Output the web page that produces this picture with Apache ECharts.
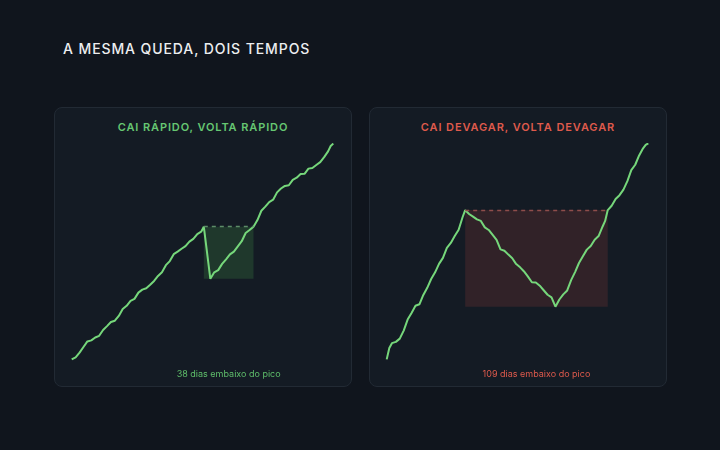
<!DOCTYPE html>
<html>
<head>
<meta charset="utf-8">
<script src="https://cdn.jsdelivr.net/npm/echarts@6/dist/echarts.min.js"></script>
<style>
  html, body { margin: 0; padding: 0; background: #10151d; }
  #wrap { position: relative; width: 720px; height: 450px; overflow: hidden; font-family: Inter, "Noto Sans", sans-serif; }
  .panel { position: absolute; top: 107px; width: 298px; height: 280px; background: #141b24; border: 1px solid #222a34; border-radius: 8px; box-sizing: border-box; }
  .ptitle { position: absolute; top: 120px; width: 298px; text-align: center; font-size: 11px; font-weight: 600; letter-spacing: 0.9px; }
  #title { position: absolute; left: 63px; top: 40px; color: #eceef0; font-size: 14px; font-weight: 500; letter-spacing: 0.9px; }
  #chart { position: absolute; left: 0; top: 0; width: 720px; height: 450px; }
</style>
</head>
<body>
<div id="wrap">
  <div class="panel" style="left:54px"></div>
  <div class="panel" style="left:369px"></div>
  <div id="title">A MESMA QUEDA, DOIS TEMPOS</div>
  <div class="ptitle" style="left:54px;color:#66c772">CAI RÁPIDO, VOLTA RÁPIDO</div>
  <div class="ptitle" style="left:369px;color:#df5a4c">CAI DEVAGAR, VOLTA DEVAGAR</div>
  <div id="chart"></div>
</div>
<script>
// dias e valores (índice, pico = referência)
var fastDays = [0, 3, 6, 9, 12, 15, 18, 21, 24, 27, 30, 33, 36, 39, 42, 45, 48, 51, 54, 57, 60, 63, 66, 69, 72, 75, 78, 81, 84, 87, 90, 93, 96, 99, 101,
  106, 109, 112, 115, 118, 121, 124, 127, 130, 133, 136, 139,
  142, 145, 148, 151, 154, 157, 160, 163, 166, 169, 172, 175, 178, 181, 184, 187, 190, 193, 196, 198, 200]
var fastVals = [0.3, 1.2, 3.4, 6.0, 8.6, 9.1, 10.4, 11.2, 13.9, 15.7, 17.6, 18.2, 20.4, 23.6, 25.1, 27.4, 28.3, 31.2, 32.6, 33.2, 34.8, 36.6, 38.9, 40.6, 43.9, 45.8, 49.0, 50.2, 51.5, 52.7, 54.8, 56.1, 58.3, 59.4, 61.7,
  37.6, 40.6, 41.6, 44.5, 46.6, 48.9, 50.2, 52.6, 55.0, 58.8, 60.2, 61.7,
  64.8, 69.1, 71.0, 73.1, 74.2, 77.6, 79.4, 80.6, 80.9, 83.4, 84.4, 86.1, 86.2, 88.6, 88.9, 90.3, 91.6, 93.9, 96.6, 99.1, 100.2]
var fastPeakDay = 101
var fastRecoveryDay = 139

var slowDays = [0, 2, 4, 7, 10, 13, 16, 19, 22, 25, 28, 31, 34, 37, 40, 43, 46, 49, 52, 55, 58, 60,
  63, 66, 69, 72, 75, 78, 81, 84, 87, 90, 93, 96, 99, 102, 105, 108, 111, 114, 117, 120, 123, 126, 129,
  132, 135, 138, 141, 144, 147, 150, 153, 156, 159, 162, 165, 167, 169,
  172, 175, 178, 181, 184, 187, 190, 193, 196, 198, 200]
var slowVals = [0.3, 5.6, 7.8, 8.4, 9.9, 13.6, 18.7, 21.8, 25.1, 25.8, 30.1, 33.4, 37.5, 40.6, 44.5, 47.3, 51.9, 54.2, 57.4, 60.3, 66.1, 69.4,
  67.6, 66.4, 65.1, 64.4, 61.4, 60.2, 57.9, 55.6, 51.2, 50.6, 48.8, 47.1, 44.4, 42.9, 41.0, 38.6, 36.0, 35.9, 34.4, 32.3, 30.2, 29.0, 24.7,
  28.0, 30.4, 32.2, 37.0, 40.7, 44.9, 48.0, 51.1, 52.8, 55.7, 57.4, 61.7, 64.4, 69.4,
  71.4, 74.5, 76.3, 78.9, 82.8, 87.9, 90.4, 94.7, 98.0, 99.6, 100.3]
var slowPeakDay = 60
var slowRecoveryDay = 169

var captionSuffix = ' dias embaixo do pico'

var LINE = '#76d77b'
var panels = [
  { days: fastDays, vals: fastVals, peak: fastPeakDay, rec: fastRecoveryDay, left: 71.7,
    fill: 'rgba(76,175,80,0.2)', dash: '#5d8d68', text: '#5fbf6b' },
  { days: slowDays, vals: slowVals, peak: slowPeakDay, rec: slowRecoveryDay, left: 386.7,
    fill: 'rgba(224,80,70,0.14)', dash: '#8e4d4b', text: '#df5a4c' }
]

function zip(a, b) {
  return a.map(function (d, i) { return [d, b[i]] })
}

function stats(p) {
  var peakVal = p.vals[p.days.indexOf(p.peak)]
  var low = Infinity
  p.days.forEach(function (d, i) {
    if (d >= p.peak && d <= p.rec) low = Math.min(low, p.vals[i])
  })
  return { peakVal: peakVal, low: low }
}

var chart = echarts.init(document.getElementById('chart'), null, { renderer: 'canvas' })

var option = {
  backgroundColor: 'transparent',
  animation: false,
  grid: [], xAxis: [], yAxis: [], series: []
}

panels.forEach(function (p, i) {
  var s = stats(p)
  option.grid.push({ left: p.left, top: 144, width: 261.6, height: 216 })
  option.xAxis.push({ type: 'value', gridIndex: i, min: 0, max: 200, show: false })
  option.yAxis.push({ type: 'value', gridIndex: i, min: 0, max: 100, show: false })
  option.series.push({
    type: 'line',
    xAxisIndex: i, yAxisIndex: i,
    data: zip(p.days, p.vals),
    showSymbol: false,
    lineStyle: { color: LINE, width: 2 },
    z: 3,
    markArea: {
      silent: true,
      itemStyle: { color: p.fill },
      label: {
        show: true,
        position: 'bottom',
        distance: 0,
        formatter: (p.rec - p.peak) + captionSuffix,
        color: p.text,
        fontSize: 9,
        fontFamily: 'Inter, "Noto Sans", sans-serif'
      },
      data: [[{ coord: [p.peak, s.peakVal] }, { coord: [p.rec, s.low] }]]
    },
    markLine: {
      silent: true,
      symbol: 'none',
      label: { show: false },
      lineStyle: { color: p.dash, type: [4, 4], width: 1.3 },
      data: [[{ coord: [p.peak, s.peakVal] }, { coord: [p.rec, s.peakVal] }]]
    }
  })
})

chart.setOption(option)

// legenda abaixo de cada área: alinhada na altura 375px
panels.forEach(function (p, i) {
  var s = stats(p)
  var yLow = chart.convertToPixel({ gridIndex: i }, [p.rec, s.low])[1]
  option.series[i].markArea.label.distance = 375 - yLow - 5
})
chart.setOption(option)
</script>
</body>
</html>
